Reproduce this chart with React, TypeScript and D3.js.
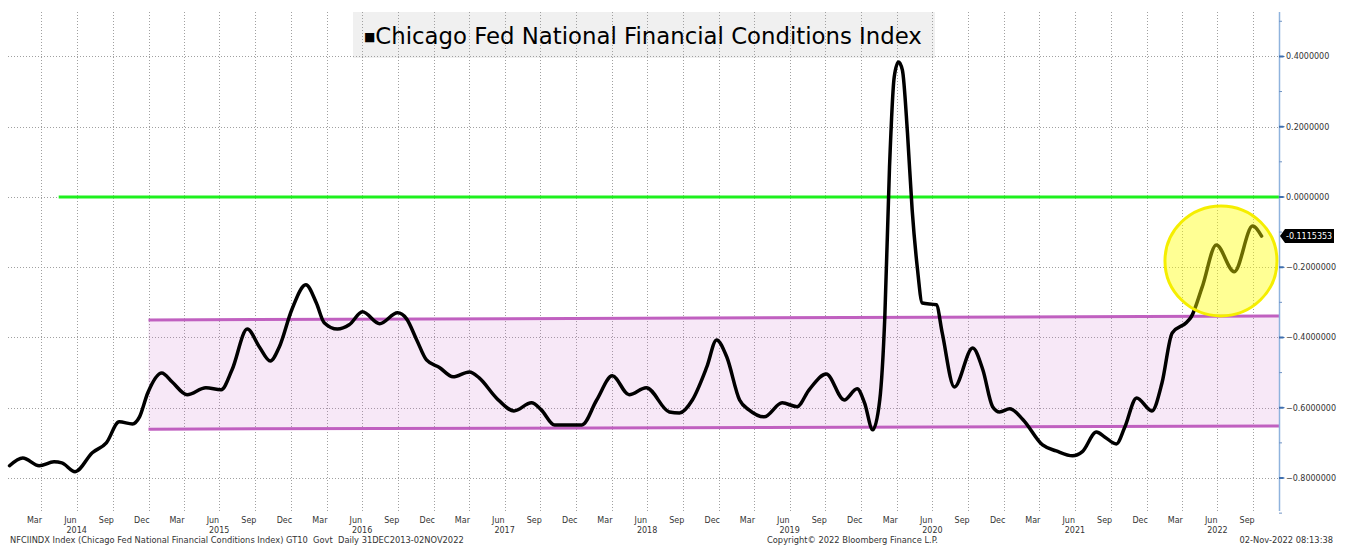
import React, { useEffect, useRef } from 'react'
import * as d3 from 'd3'

// NFCI weekly readings
const dates = [
  '2014-01-10', '2014-02-13', '2014-03-27', '2014-05-04', '2014-05-24', '2014-06-27', '2014-08-10', '2014-09-15',
  '2014-10-18', '2014-11-21', '2014-12-09', '2014-12-30', '2015-02-04', '2015-03-02', '2015-04-10', '2015-05-28',
  '2015-07-06', '2015-08-03', '2015-09-11', '2015-10-12', '2015-11-09', '2015-12-02', '2016-01-03', '2016-02-08',
  '2016-03-06', '2016-03-26', '2016-04-29', '2016-05-29', '2016-07-02', '2016-08-15', '2016-09-30', '2016-10-23',
  '2016-11-18', '2016-12-13', '2017-01-16', '2017-02-19', '2017-04-02', '2017-04-27', '2017-06-10', '2017-07-25',
  '2017-09-08', '2017-10-03', '2017-11-06', '2017-12-14', '2018-01-15', '2018-02-22', '2018-04-03', '2018-05-16',
  '2018-06-29', '2018-08-27', '2018-09-22', '2018-10-25', '2018-12-01', '2018-12-26', '2019-01-21', '2019-02-23',
  '2019-03-19', '2019-04-27', '2019-06-12', '2019-07-20', '2019-08-20', '2019-10-03', '2019-11-18', '2019-12-21',
  '2020-01-09', '2020-01-30', '2020-02-17', '2020-03-01', '2020-03-13', '2020-03-25', '2020-04-05', '2020-04-15',
  '2020-04-28', '2020-05-10', '2020-05-23', '2020-06-05', '2020-07-11', '2020-07-26', '2020-08-26', '2020-10-12',
  '2020-11-07', '2020-12-02', '2020-12-20', '2021-01-15', '2021-02-18', '2021-04-09', '2021-05-14', '2021-06-25',
  '2021-07-20', '2021-08-25', '2021-09-15', '2021-10-15', '2021-11-05', '2021-12-06', '2022-01-14', '2022-02-09',
  '2022-03-07', '2022-04-12', '2022-04-25', '2022-05-23', '2022-06-28', '2022-08-13', '2022-09-29', '2022-10-22',
]
const nfci = [
  -0.765, -0.743, -0.765, -0.754, -0.757, -0.782, -0.728, -0.7,
  -0.64, -0.646, -0.626, -0.558, -0.501, -0.526, -0.563, -0.543,
  -0.549, -0.492, -0.376, -0.427, -0.467, -0.427, -0.321, -0.25,
  -0.302, -0.358, -0.376, -0.364, -0.327, -0.361, -0.33, -0.347,
  -0.407, -0.464, -0.486, -0.512, -0.498, -0.515, -0.572, -0.609,
  -0.586, -0.606, -0.649, -0.649, -0.649, -0.578, -0.509, -0.563,
  -0.543, -0.612, -0.615, -0.578, -0.484, -0.407, -0.455, -0.578,
  -0.606, -0.626, -0.586, -0.597, -0.549, -0.504, -0.578, -0.546,
  -0.586, -0.663, -0.578, -0.341, 0.085, 0.341, 0.384, 0.361,
  0.182, -0.037, -0.199, -0.302, -0.307, -0.387, -0.541, -0.43,
  -0.492, -0.597, -0.612, -0.603, -0.634, -0.706, -0.723, -0.737,
  -0.725, -0.669, -0.683, -0.703, -0.657, -0.572, -0.609, -0.529,
  -0.387, -0.358, -0.341, -0.256, -0.137, -0.213, -0.083, -0.1115353,
]
const lastLabel = '-0.1115353'

const yTicks = [0.4, 0.2, 0, -0.2, -0.4, -0.6, -0.8]
const yMinorTicks = [0.5, 0.3, 0.1, -0.1, -0.3, -0.5, -0.7, -0.9]
const monthNames = ['Mar', 'Jun', 'Sep', 'Dec']
const years = [2014, 2015, 2016, 2017, 2018, 2019, 2020, 2021, 2022]

// annotations drawn on the chart
const bandDates = ['2015-01-01', '2022-12-06']
const bandTop = [-0.35, -0.339]
const bandBottom = [-0.661, -0.652]
const zeroLineDates = ['2014-05-16', '2022-12-06']
const circleCenter = { date: '2022-07-10', value: -0.182 }

const title = 'Chicago Fed National Financial Conditions Index'
const footLeft = 'NFCIINDX Index (Chicago Fed National Financial Conditions Index) GT10\u00a0 Govt\u00a0 Daily 31DEC2013-02NOV2022'
const footMid = 'Copyright\u00a9 2022 Bloomberg Finance L.P.'
const footRight = '02-Nov-2022 08:13:38'

const W = 1345
const H = 546
const axisX = 1279
const plotTop = 12
const plotBottom = 511
const font = 'DejaVu Sans, Verdana, sans-serif'

const App = () => {
  const ref = useRef<SVGSVGElement>(null)

  useEffect(() => {
    const svg = d3.select(ref.current)
    svg.selectAll('*').remove()
    const parse = d3.timeParse('%Y-%m-%d')

    const x = d3.scaleTime()
      .domain([new Date(2014, 0, 1), new Date(2022, 0, 1)])
      .range([6, 6 + 8 * 142.6])
    const y = d3.scaleLinear().domain([-0.8, 0.4]).range([478, 56.4])

    svg.append('rect').attr('width', W).attr('height', H).attr('fill', '#ffffff')

    // title box
    svg.append('rect')
      .attr('x', 353).attr('y', 12).attr('width', 582).attr('height', 46)
      .attr('fill', '#f0f0f0')

    // gridlines
    const grid = svg.append('g')
      .attr('stroke', '#a0a0a0').attr('stroke-width', 1).attr('stroke-dasharray', '1,2')
    grid.selectAll('line.h').data(yTicks).enter().append('line')
      .attr('x1', 8).attr('x2', axisX)
      .attr('y1', (d) => Math.round(y(d)) + 0.5).attr('y2', (d) => Math.round(y(d)) + 0.5)
    const gridDates = d3.timeMonth.every(3)!.range(new Date(2014, 3, 1), new Date(2022, 10, 1))
    grid.selectAll('line.v').data(gridDates).enter().append('line')
      .attr('x1', (d) => Math.round(x(d)) + 0.5).attr('x2', (d) => Math.round(x(d)) + 0.5)
      .attr('y1', plotTop).attr('y2', plotBottom)

    // band
    const b0 = x(parse(bandDates[0])!)
    const b1 = x(parse(bandDates[1])!)
    svg.append('path')
      .attr('d', `M${b0},${y(bandTop[0])}L${b1},${y(bandTop[1])}L${b1},${y(bandBottom[1])}L${b0},${y(bandBottom[0])}Z`)
      .attr('fill', '#cc66cc').attr('fill-opacity', 0.15)
    svg.append('line')
      .attr('x1', b0).attr('x2', b1).attr('y1', y(bandTop[0])).attr('y2', y(bandTop[1]))
      .attr('stroke', '#c060c0').attr('stroke-width', 3)
    svg.append('line')
      .attr('x1', b0).attr('x2', b1).attr('y1', y(bandBottom[0])).attr('y2', y(bandBottom[1]))
      .attr('stroke', '#c060c0').attr('stroke-width', 3)

    // zero line
    svg.append('line')
      .attr('x1', x(parse(zeroLineDates[0])!)).attr('x2', x(parse(zeroLineDates[1])!))
      .attr('y1', y(0)).attr('y2', y(0))
      .attr('stroke', '#1ef01e').attr('stroke-width', 3)

    // series
    const data = dates.map((d, i) => ({ date: parse(d)!, value: nfci[i] }))
    const line = d3.line<{ date: Date; value: number }>()
      .x((d) => x(d.date))
      .y((d) => y(d.value))
      .curve(d3.curveMonotoneX)
    svg.append('path')
      .datum(data)
      .attr('d', line)
      .attr('fill', 'none')
      .attr('stroke', '#000000')
      .attr('stroke-width', 3.5)
      .attr('stroke-linejoin', 'round')
      .attr('stroke-linecap', 'round')

    // highlight circle
    svg.append('ellipse')
      .attr('cx', x(parse(circleCenter.date)!)).attr('cy', y(circleCenter.value))
      .attr('rx', 56).attr('ry', 55)
      .attr('fill', '#ffff00').attr('fill-opacity', 0.42)
      .attr('stroke', '#f5ee00').attr('stroke-width', 3)

    // right axis
    svg.append('line')
      .attr('x1', axisX + 0.5).attr('x2', axisX + 0.5).attr('y1', plotTop).attr('y2', plotBottom)
      .attr('stroke', '#8fb3dd').attr('stroke-width', 1.5)
    svg.append('g').selectAll('line').data(yMinorTicks).enter().append('line')
      .attr('x1', axisX).attr('x2', axisX + 3)
      .attr('y1', (d) => y(d)).attr('y2', (d) => y(d))
      .attr('stroke', '#6f93c4').attr('stroke-width', 1)
    svg.append('g').selectAll('path').data(yTicks).enter().append('path')
      .attr('d', (d) => `M${axisX},${y(d) - 1}L${axisX + 4},${y(d) - 1}L${axisX + 6},${y(d)}L${axisX + 4},${y(d) + 1}L${axisX},${y(d) + 1}Z`)
      .attr('fill', '#3f6fae')
    svg.append('g').selectAll('text').data(yTicks).enter().append('text')
      .attr('x', axisX + 7).attr('y', (d) => y(d) + 3)
      .attr('font-family', font).attr('font-size', 8).attr('fill', '#333333')
      .text((d) => d3.format('.7f')(d))

    // last value tag
    const ly = y(nfci[nfci.length - 1])
    svg.append('path')
      .attr('d', `M${axisX + 1},${ly}L${axisX + 6},${ly - 7}L${axisX + 55},${ly - 7}L${axisX + 55},${ly + 7}L${axisX + 6},${ly + 7}Z`)
      .attr('fill', '#000000')
    svg.append('text')
      .attr('x', axisX + 7).attr('y', ly + 3)
      .attr('font-family', font).attr('font-size', 8).attr('fill', '#ffffff')
      .text(lastLabel)

    // x labels: quarter-end months, centred mid-month
    const monthDates: Date[] = []
    years.forEach((yr) => {
      [2, 5, 8, 11].forEach((m) => {
        if (yr === 2022 && m > 8) return
        monthDates.push(new Date(yr, m, 15))
      })
    })
    svg.append('g').selectAll('text').data(monthDates).enter().append('text')
      .attr('x', (d) => x(d)).attr('y', 523)
      .attr('text-anchor', 'middle')
      .attr('font-family', font).attr('font-size', 8).attr('fill', '#333333')
      .text((d) => monthNames[Math.floor(d.getMonth() / 3)])
    svg.append('g').selectAll('text').data(years).enter().append('text')
      .attr('x', (d) => x(new Date(d, 6, 1))).attr('y', 533)
      .attr('text-anchor', 'middle')
      .attr('font-family', font).attr('font-size', 8).attr('fill', '#333333')
      .text((d) => String(d))

    // title
    const t = svg.append('text')
      .attr('x', 364).attr('y', 44)
      .attr('font-family', font).attr('font-size', 22.8).attr('fill', '#000000')
    t.append('tspan').attr('font-size', 12).attr('dy', -3).text('\u25a0')
    t.append('tspan').attr('dy', 3).text(title)

    // footer
    const foot = svg.append('g')
      .attr('font-family', font).attr('font-size', 8.3).attr('fill', '#333333')
    foot.append('text').attr('x', 10).attr('y', 543).text(footLeft)
    foot.append('text').attr('x', 767).attr('y', 543).text(footMid)
    foot.append('text').attr('x', 1333).attr('y', 543).attr('text-anchor', 'end').text(footRight)
  })

  return (
    <svg
      ref={ref}
      width={W}
      height={H}
      style={{ position: 'absolute', left: 0, top: 0, display: 'block' }}
    />
  )
}

export default App
